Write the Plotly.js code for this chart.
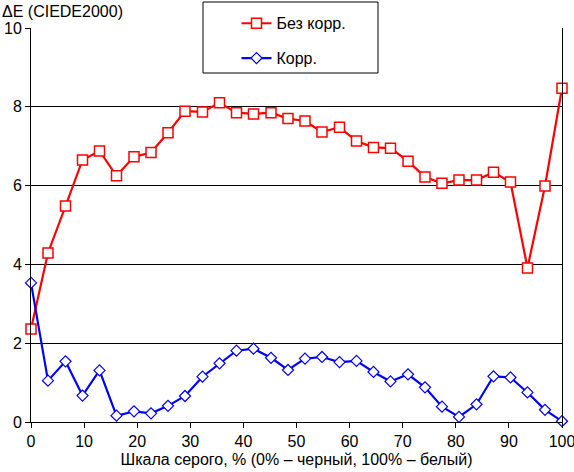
<!DOCTYPE html>
<html><head><meta charset="utf-8">
<script src="https://cdn.plot.ly/plotly-3.0.1.min.js"></script>
<style>html,body{margin:0;padding:0;background:#fff}#chart{width:574px;height:472px}</style>
</head><body><div id="chart"></div>
<script>
const grayLevels = [0,3.2,6.5,9.7,12.9,16.1,19.4,22.6,25.8,29.0,32.3,35.5,38.7,41.9,45.2,48.4,51.6,54.8,58.1,61.3,64.5,67.7,71.0,74.2,77.4,80.6,83.9,87.1,90.3,93.5,96.8,100];
const noCorr = [2.36,4.29,5.48,6.65,6.88,6.25,6.73,6.84,7.34,7.89,7.87,8.10,7.85,7.82,7.85,7.70,7.64,7.36,7.48,7.13,6.97,6.95,6.62,6.22,6.06,6.14,6.14,6.34,6.09,3.91,5.99,8.47];
const corr = [3.53,1.05,1.54,0.67,1.31,0.16,0.27,0.22,0.41,0.66,1.15,1.49,1.81,1.86,1.63,1.32,1.61,1.65,1.52,1.55,1.27,1.03,1.21,0.88,0.39,0.13,0.45,1.16,1.13,0.75,0.31,0.02];
const seriesNames = ['Без корр.','Корр.'];
const xTitle = 'Шкала серого, % (0% – черный, 100% – белый)';
const yTitle = 'ΔE (CIEDE2000)';

const font = {family:'Liberation Sans, Arial, sans-serif', size:16, color:'#000'};
const traces = [
  {x:grayLevels, y:noCorr, name:seriesNames[0], mode:'lines+markers', legendgroup:'a',
   line:{color:'#ff0000', width:2.2}, marker:{symbol:'square', size:10, color:'#ffffff', line:{color:'#ff0000', width:1.5}}, cliponaxis:false},
  {x:grayLevels, y:corr, name:seriesNames[1], mode:'lines+markers', legendgroup:'b',
   line:{color:'#0000ff', width:2.2}, marker:{symbol:'diamond', size:8.5, color:'#ffffff', line:{color:'#0000ff', width:1.2}}, cliponaxis:false}
];
const layout = {
  width:574, height:472,
  margin:{l:31, r:12, t:28, b:50, autoexpand:false},
  paper_bgcolor:'#fff', plot_bgcolor:'#fff',
  font:font,
  showlegend:true,
  legend:{x:0.387, y:1.055, xanchor:'left', yanchor:'top', bgcolor:'rgba(0,0,0,0)', borderwidth:0,
          font:font, traceorder:'grouped', tracegroupgap:11, itemwidth:30},
  xaxis:{range:[0,100], dtick:10, tick0:0, showgrid:false, zeroline:false, showline:true, linecolor:'#000', linewidth:1,
         ticks:'outside', ticklen:5, tickcolor:'#000', tickfont:font, fixedrange:true, ticklabeloverflow:'allow',
         automargin:false, title:{text:xTitle, font:font, standoff:4}},
  yaxis:{range:[0,10], dtick:2, tick0:0, showgrid:true, gridcolor:'#000', gridwidth:1, zeroline:false,
         showline:true, mirror:true, linecolor:'#000', linewidth:1, automargin:false,
         ticks:'outside', ticklen:5, tickcolor:'#000', tickfont:font, fixedrange:true},
  shapes:[{type:'rect', xref:'paper', yref:'paper', x0:(203-31)/531, x1:(378-31)/531, y0:1-(73-28)/394, y1:1+(28-2)/394,
           line:{color:'#000', width:1}, fillcolor:'#fff', layer:'above'}],
  annotations:[{text:yTitle, xref:'paper', yref:'paper', x:-31/531, y:1+(28-1)/394, xanchor:'left', yanchor:'top',
                showarrow:false, font:font}]
};
Plotly.newPlot('chart', traces, layout, {displayModeBar:false, staticPlot:true});
</script></body></html>
